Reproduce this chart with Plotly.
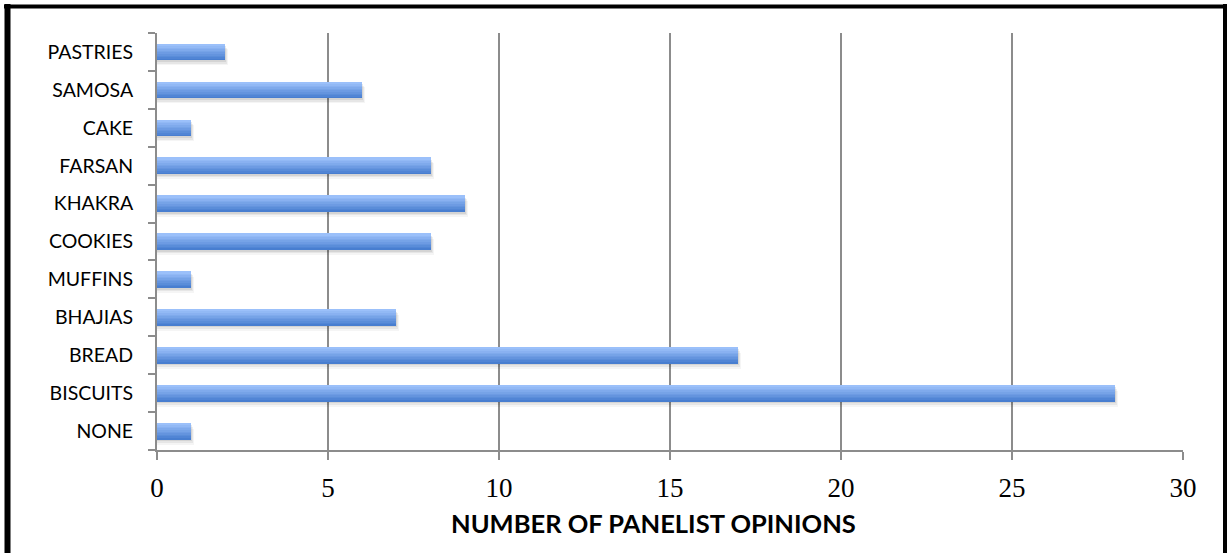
import plotly.graph_objects as go

categories = ["NONE", "BISCUITS", "BREAD", "BHAJIAS", "MUFFINS", "COOKIES",
              "KHAKRA", "FARSAN", "CAKE", "SAMOSA", "PASTRIES"]
opinions = [1, 28, 17, 7, 1, 8, 9, 8, 1, 6, 2]
x_ticks = [0, 5, 10, 15, 20, 25, 30]

BAR_W = 0.42
N_BANDS = 10
top_rgb = (155, 192, 250)
bot_rgb = (72, 126, 208)

W, H = 1227, 553
L, R, T, B = 157, 44, 33, 103
pw, ph = W - L - R, H - T - B
unit_y = ph / len(categories)   # px per category
unit_x = pw / 30.0              # px per x unit

fig = go.Figure()

# soft shadow under bars (dy, dx in pixels, alpha)
for dy, dx, a in [(5.5, 3.0, 0.04), (3.8, 2.0, 0.06), (2.2, 1.0, 0.08)]:
    fig.add_trace(go.Bar(
        y=categories, x=[v + dx / unit_x for v in opinions], orientation="h",
        width=BAR_W, offset=-BAR_W / 2 - dy / unit_y,
        marker=dict(color=f"rgba(0,0,0,{a})", line=dict(width=0)),
        hoverinfo="skip", showlegend=False))

band = BAR_W / N_BANDS
for k in range(N_BANDS):
    t = k / (N_BANDS - 1)  # 0 bottom -> 1 top
    r = round(bot_rgb[0] + (top_rgb[0] - bot_rgb[0]) * t)
    g = round(bot_rgb[1] + (top_rgb[1] - bot_rgb[1]) * t)
    b = round(bot_rgb[2] + (top_rgb[2] - bot_rgb[2]) * t)
    fig.add_trace(go.Bar(
        y=categories, x=opinions, orientation="h",
        width=band * 1.15, offset=-BAR_W / 2 + k * band,
        marker=dict(color=f"rgb({r},{g},{b})", line=dict(width=0)),
        showlegend=False))


def px(x):
    return (x - L) / pw


def py(y):
    return (H - B - y) / ph


shapes = [
    dict(type="line", xref="paper", yref="paper", x0=px(7.5), x1=px(7.5),
         y0=py(4), y1=py(570), line=dict(color="black", width=6)),
    dict(type="line", xref="paper", yref="paper", x0=px(4), x1=px(1227),
         y0=py(6.5), y1=py(6.5), line=dict(color="black", width=4)),
    dict(type="line", xref="paper", yref="paper", x0=px(1225), x1=px(1225),
         y0=py(4), y1=py(570), line=dict(color="black", width=4)),
]

fig.update_layout(
    width=W, height=H,
    margin=dict(l=L, r=R, t=T, b=B),
    paper_bgcolor="white", plot_bgcolor="white",
    barmode="overlay", bargap=0,
    shapes=shapes,
    xaxis=dict(range=[0, 30], tickvals=x_ticks, ticktext=[str(v) for v in x_ticks],
               showgrid=True, gridcolor="#8c8c8c", gridwidth=1.5,
               showline=True, linecolor="#8c8c8c", linewidth=2,
               ticks="outside", ticklen=8, tickcolor="#8c8c8c", tickwidth=2,
               tickfont=dict(family="Liberation Serif", size=27, color="black"),
               ticklabelstandoff=5, zeroline=False, fixedrange=True),
    yaxis=dict(categoryorder="array", categoryarray=categories,
               showgrid=False, showline=True, linecolor="#8c8c8c", linewidth=2,
               ticks="outside", ticklen=7, tickcolor="#8c8c8c", tickwidth=2,
               tickson="boundaries",
               tickfont=dict(family="Lato", size=19.5, color="black"),
               ticklabelstandoff=18, fixedrange=True),
    annotations=[dict(text="<b>NUMBER OF PANELIST OPINIONS</b>", xref="paper", yref="paper",
                      x=px(653), y=py(523), xanchor="center", yanchor="middle",
                      showarrow=False, font=dict(family="Lato", size=25.5, color="black"))],
)

fig.write_html("out.html")
